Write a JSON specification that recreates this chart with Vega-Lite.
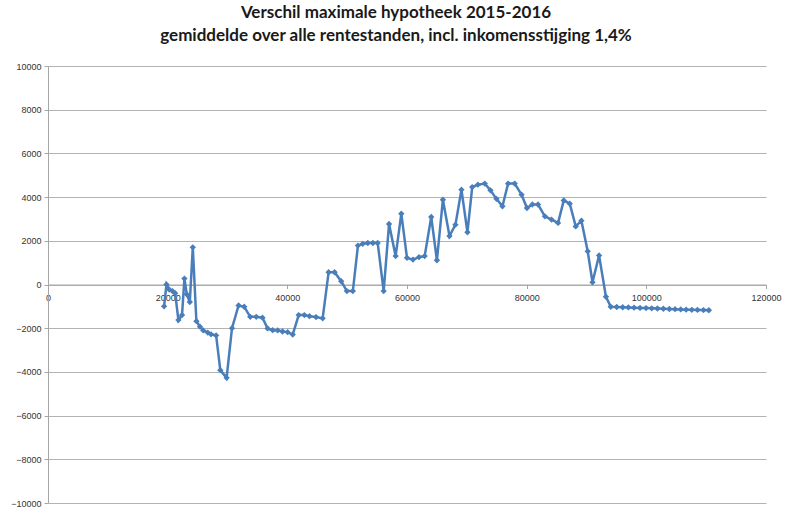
{
  "$schema": "https://vega.github.io/schema/vega-lite/v6.json",
  "width": 718,
  "height": 437,
  "autosize": {"type": "none"},
  "padding": {"left": 48, "top": 66, "right": 26, "bottom": 8},
  "background": "white",
  "title": {
    "text": ["Verschil maximale hypotheek 2015-2016", "gemiddelde over alle rentestanden, incl. inkomensstijging 1,4%"],
    "font": "Lato",
    "fontSize": 17,
    "fontWeight": "bold",
    "color": "#1a1a1a",
    "lineHeight": 23,
    "anchor": "middle",
    "dx": -11,
    "offset": 17
  },
  "config": {
    "view": {"stroke": null},
    "axis": {"labelFont": "Liberation Sans", "labelFontSize": 9, "labelColor": "#333333"}
  },
  "data": {
    "values": [
      {"inkomen": 19400, "verschil": -1000},
      {"inkomen": 19800, "verschil": 0},
      {"inkomen": 20250, "verschil": -230},
      {"inkomen": 20800, "verschil": -300},
      {"inkomen": 21250, "verschil": -400},
      {"inkomen": 21800, "verschil": -1630},
      {"inkomen": 22400, "verschil": -1400},
      {"inkomen": 22800, "verschil": 270},
      {"inkomen": 23200, "verschil": -450},
      {"inkomen": 23700, "verschil": -800},
      {"inkomen": 24200, "verschil": 1700},
      {"inkomen": 24800, "verschil": -1680},
      {"inkomen": 25400, "verschil": -1930},
      {"inkomen": 25950, "verschil": -2100},
      {"inkomen": 26700, "verschil": -2200},
      {"inkomen": 27250, "verschil": -2280},
      {"inkomen": 28100, "verschil": -2330},
      {"inkomen": 28800, "verschil": -3920},
      {"inkomen": 29850, "verschil": -4270},
      {"inkomen": 30750, "verschil": -2000},
      {"inkomen": 31850, "verschil": -960},
      {"inkomen": 32800, "verschil": -1020},
      {"inkomen": 33800, "verschil": -1480},
      {"inkomen": 34800, "verschil": -1480},
      {"inkomen": 35850, "verschil": -1520},
      {"inkomen": 36700, "verschil": -2010},
      {"inkomen": 37550, "verschil": -2090},
      {"inkomen": 38400, "verschil": -2100},
      {"inkomen": 39200, "verschil": -2150},
      {"inkomen": 40050, "verschil": -2180},
      {"inkomen": 40900, "verschil": -2290},
      {"inkomen": 41900, "verschil": -1400},
      {"inkomen": 42850, "verschil": -1400},
      {"inkomen": 43700, "verschil": -1450},
      {"inkomen": 44800, "verschil": -1490},
      {"inkomen": 45900, "verschil": -1550},
      {"inkomen": 46900, "verschil": 560},
      {"inkomen": 47900, "verschil": 560},
      {"inkomen": 49000, "verschil": 150},
      {"inkomen": 49950, "verschil": -300},
      {"inkomen": 50950, "verschil": -300},
      {"inkomen": 51800, "verschil": 1780},
      {"inkomen": 52600, "verschil": 1860},
      {"inkomen": 53450, "verschil": 1900},
      {"inkomen": 54300, "verschil": 1900},
      {"inkomen": 55100, "verschil": 1900},
      {"inkomen": 56100, "verschil": -300},
      {"inkomen": 57000, "verschil": 2770},
      {"inkomen": 58100, "verschil": 1300},
      {"inkomen": 59050, "verschil": 3240},
      {"inkomen": 60000, "verschil": 1220},
      {"inkomen": 61000, "verschil": 1140},
      {"inkomen": 62000, "verschil": 1250},
      {"inkomen": 62950, "verschil": 1300},
      {"inkomen": 64050, "verschil": 3090},
      {"inkomen": 65000, "verschil": 1110},
      {"inkomen": 66000, "verschil": 3880},
      {"inkomen": 67100, "verschil": 2220},
      {"inkomen": 68100, "verschil": 2740},
      {"inkomen": 69100, "verschil": 4340},
      {"inkomen": 70100, "verschil": 2390},
      {"inkomen": 70900, "verschil": 4460},
      {"inkomen": 71850, "verschil": 4570},
      {"inkomen": 73000, "verschil": 4620},
      {"inkomen": 73950, "verschil": 4310},
      {"inkomen": 74950, "verschil": 3920},
      {"inkomen": 75950, "verschil": 3580},
      {"inkomen": 76900, "verschil": 4620},
      {"inkomen": 78000, "verschil": 4620},
      {"inkomen": 79150, "verschil": 4110},
      {"inkomen": 80050, "verschil": 3500},
      {"inkomen": 80950, "verschil": 3660},
      {"inkomen": 81900, "verschil": 3660},
      {"inkomen": 83050, "verschil": 3120},
      {"inkomen": 84150, "verschil": 2970},
      {"inkomen": 85250, "verschil": 2820},
      {"inkomen": 86200, "verschil": 3850},
      {"inkomen": 87200, "verschil": 3700},
      {"inkomen": 88200, "verschil": 2660},
      {"inkomen": 89150, "verschil": 2920},
      {"inkomen": 90200, "verschil": 1520},
      {"inkomen": 91000, "verschil": 100},
      {"inkomen": 92100, "verschil": 1330},
      {"inkomen": 93250, "verschil": -560},
      {"inkomen": 94050, "verschil": -1020},
      {"inkomen": 95050, "verschil": -1030},
      {"inkomen": 96050, "verschil": -1040},
      {"inkomen": 97000, "verschil": -1050},
      {"inkomen": 97950, "verschil": -1060},
      {"inkomen": 98950, "verschil": -1070},
      {"inkomen": 99950, "verschil": -1080},
      {"inkomen": 100900, "verschil": -1090},
      {"inkomen": 101850, "verschil": -1100},
      {"inkomen": 102850, "verschil": -1110},
      {"inkomen": 103850, "verschil": -1120},
      {"inkomen": 104800, "verschil": -1130},
      {"inkomen": 105750, "verschil": -1140},
      {"inkomen": 106650, "verschil": -1150},
      {"inkomen": 107600, "verschil": -1160},
      {"inkomen": 108550, "verschil": -1165},
      {"inkomen": 109550, "verschil": -1170},
      {"inkomen": 110450, "verschil": -1180}
    ]
  },
  "encoding": {
    "x": {
      "field": "inkomen",
      "type": "quantitative",
      "scale": {"domain": [0, 120000], "nice": false},
      "axis": {
        "title": null,
        "values": [0, 20000, 40000, 60000, 80000, 100000, 120000],
        "format": "d",
        "grid": false,
        "offset": -218.5,
        "domainColor": "#a6a6a6",
        "domainWidth": 1,
        "tickColor": "#a6a6a6",
        "tickSize": 4,
        "labelPadding": 5,
        "labelFlush": false
      }
    },
    "y": {
      "field": "verschil",
      "type": "quantitative",
      "scale": {"domain": [-10000, 10000], "nice": false},
      "axis": {
        "title": null,
        "values": [-10000, -8000, -6000, -4000, -2000, 0, 2000, 4000, 6000, 8000, 10000],
        "format": "d",
        "grid": true,
        "gridColor": "#b3b3b3",
        "gridWidth": 1,
        "domainColor": "#a6a6a6",
        "tickColor": "#a6a6a6",
        "tickSize": 4,
        "labelPadding": 3
      }
    }
  },
  "layer": [
    {
      "mark": {"type": "line", "color": "#4a7ebb", "strokeWidth": 2.5}
    },
    {
      "mark": {"type": "point", "shape": "diamond", "filled": true, "color": "#4a7ebb", "size": 40, "opacity": 1}
    }
  ]
}
